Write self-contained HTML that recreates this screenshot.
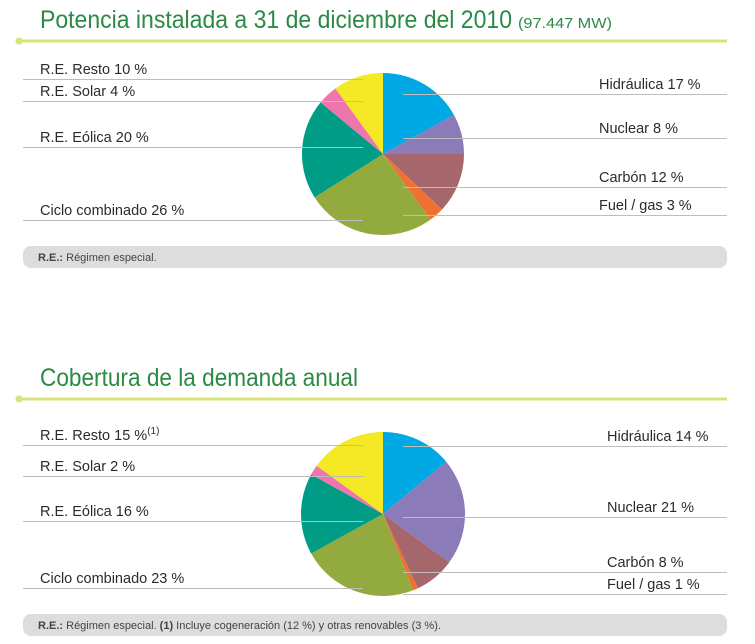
<!DOCTYPE html>
<html><head><meta charset="utf-8"><style>
html,body{margin:0;padding:0;background:#fff;width:755px;height:644px;overflow:hidden}
svg{display:block;font-family:"Liberation Sans",sans-serif}
.lbl{font-size:14.5px;fill:#2b2b2b}
.ttl{font-size:25px;fill:#2b8a45}
.ln{stroke:#bdbdbd;stroke-width:1}
.ft{font-size:11px;fill:#444}
</style></head><body>
<svg id="chart" width="755" height="644" viewBox="0 0 755 644">
  <!-- Section 1 -->
  <text class="ttl" x="40" y="28" textLength="472" lengthAdjust="spacingAndGlyphs">Potencia instalada a 31 de diciembre del 2010</text>
  <text x="518" y="28" font-size="15" fill="#2b8a45" textLength="94" lengthAdjust="spacingAndGlyphs">(97.447 MW)</text>
  <line x1="19" y1="41" x2="727" y2="41" stroke="#d8e47a" stroke-width="3"/>
  <circle cx="19" cy="41" r="3.5" fill="#d8e47a"/>
  <g id="pie1"></g>
  <g id="labels1"></g>
  <rect x="23" y="246" width="704" height="22" rx="8" fill="#dcdddc"/>
  <text class="ft" x="38" y="261"><tspan font-weight="bold">R.E.:</tspan> Régimen especial.</text>

  <!-- Section 2 -->
  <text class="ttl" x="40" y="386" textLength="318" lengthAdjust="spacingAndGlyphs">Cobertura de la demanda anual</text>
  <line x1="19" y1="399" x2="727" y2="399" stroke="#d8e47a" stroke-width="3"/>
  <circle cx="19" cy="399" r="3.5" fill="#d8e47a"/>
  <g id="pie2"></g>
  <g id="labels2"></g>
  <rect x="23" y="614" width="704" height="22" rx="8" fill="#dcdddc"/>
  <text class="ft" x="38" y="629"><tspan font-weight="bold">R.E.:</tspan> Régimen especial. <tspan font-weight="bold">(1)</tspan> Incluye cogeneración (12 %) y otras renovables (3 %).</text>
</svg>
<script>
const categories = ["Hidráulica","Nuclear","Carbón","Fuel / gas","Ciclo combinado","R.E. Eólica","R.E. Solar","R.E. Resto"];
const colors = ["#00a9e3","#8b7bb8","#a5666c","#f07030","#93aa3e","#009c85","#ee76ac","#f4e924"];
const potenciaValues = [17,8,12,3,26,20,4,10];
const coberturaValues = [14,21,8,1,23,16,2,15];
// label layout: line y per category [right side first 4, left side last 4]
const layout1 = {cx:383, cy:154, r:81, rightX:599, lineY:[94,138,187,215,220,147,101,79]};
const layout2 = {cx:383, cy:514, r:82, rightX:607, lineY:[446,517,572,594,588,521,476,445]};
const NS = "http://www.w3.org/2000/svg";

function drawPie(gId, values, L){
  const g = document.getElementById(gId);
  const total = values.reduce((a,b)=>a+b,0);
  let a0 = -Math.PI/2;
  values.forEach((v,i)=>{
    const a1 = a0 + v/total*2*Math.PI;
    const x0=L.cx+L.r*Math.cos(a0), y0=L.cy+L.r*Math.sin(a0);
    const x1=L.cx+L.r*Math.cos(a1), y1=L.cy+L.r*Math.sin(a1);
    const large = (a1-a0)>Math.PI?1:0;
    const p = document.createElementNS(NS,"path");
    p.setAttribute("d",`M${L.cx},${L.cy}L${x0},${y0}A${L.r},${L.r} 0 ${large} 1 ${x1},${y1}Z`);
    p.setAttribute("fill",colors[i]);
    
    
    g.appendChild(p);
    a0 = a1;
  });
}
function drawLabels(gId, values, L, sup){
  const g = document.getElementById(gId);
  values.forEach((v,i)=>{
    const right = i<4;
    const y = L.lineY[i];
    const ln = document.createElementNS(NS,"line");
    ln.setAttribute("class","ln");
    if(right){ ln.setAttribute("x1",L.cx+20); ln.setAttribute("x2",727); }
    else { ln.setAttribute("x1",23); ln.setAttribute("x2",L.cx-20); }
    ln.setAttribute("y1",y+0.5); ln.setAttribute("y2",y+0.5);
    
    
    g.appendChild(ln);
    const t = document.createElementNS(NS,"text");
    t.setAttribute("class","lbl");
    t.setAttribute("x", right ? L.rightX : 40);
    t.setAttribute("y", y-5);
    t.textContent = categories[i] + " " + v + " %";
    
    
    if(sup && i===7){
      const ts = document.createElementNS(NS,"tspan");
      ts.setAttribute("dy","-6"); ts.setAttribute("font-size","10");
      ts.textContent = "(1)";
      t.appendChild(ts);
    }
    g.appendChild(t);
  });
}
drawLabels("labels1", potenciaValues, layout1, false);
drawPie("pie1", potenciaValues, layout1);
drawLabels("labels2", coberturaValues, layout2, true);
drawPie("pie2", coberturaValues, layout2);
</script>
</body></html>
